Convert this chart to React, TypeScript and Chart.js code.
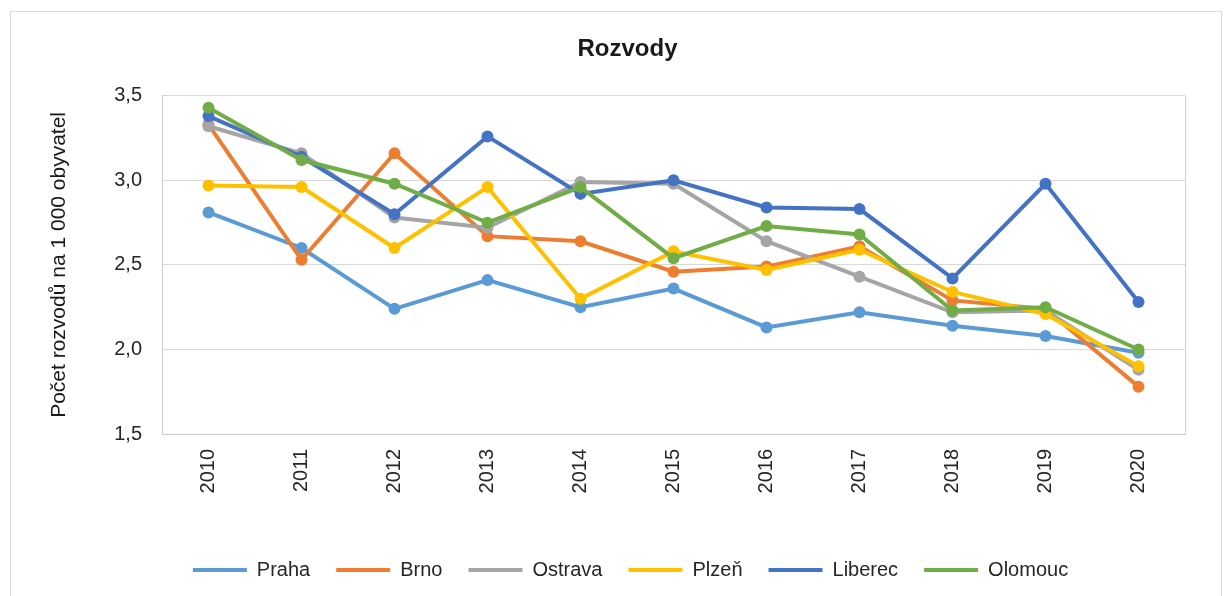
import React, { useEffect, useRef } from "react";
import { Chart, registerables } from "chart.js";

Chart.register(...registerables);

const years = ["2010", "2011", "2012", "2013", "2014", "2015", "2016", "2017", "2018", "2019", "2020"];
const praha = [2.81, 2.6, 2.24, 2.41, 2.25, 2.36, 2.13, 2.22, 2.14, 2.08, 1.98];
const brno = [3.33, 2.53, 3.16, 2.67, 2.64, 2.46, 2.49, 2.61, 2.29, 2.24, 1.78];
const ostrava = [3.32, 3.16, 2.78, 2.72, 2.99, 2.98, 2.64, 2.43, 2.22, 2.23, 1.88];
const plzen = [2.97, 2.96, 2.6, 2.96, 2.3, 2.58, 2.47, 2.59, 2.34, 2.21, 1.9];
const liberec = [3.38, 3.14, 2.8, 3.26, 2.92, 3.0, 2.84, 2.83, 2.42, 2.98, 2.28];
const olomouc = [3.43, 3.12, 2.98, 2.75, 2.96, 2.54, 2.73, 2.68, 2.23, 2.25, 2.0];

const seriesNames = ["Praha", "Brno", "Ostrava", "Plzeň", "Liberec", "Olomouc"];
const seriesValues = [praha, brno, ostrava, plzen, liberec, olomouc];
const seriesColors = ["#5B9BD5", "#ED7D31", "#A5A5A5", "#FFC000", "#4472C4", "#70AD47"];

const FONT = "'Liberation Sans', Arial, sans-serif";

const framePlugin = {
  id: "plotFrame",
  afterLayout(chart: any) {
    if (chart.legend) {
      chart.legend.left += 18;
      chart.legend.right += 18;
    }
    if (chart.titleBlock) {
      chart.titleBlock.left += 15;
      chart.titleBlock.right += 15;
    }
  },
  beforeDatasetsDraw(chart: any) {
    const { ctx, chartArea } = chart;
    ctx.save();
    ctx.strokeStyle = "#d0d0d0";
    ctx.lineWidth = 1;
    ctx.beginPath();
    ctx.moveTo(Math.round(chartArea.right) + 0.5, chartArea.top);
    ctx.lineTo(Math.round(chartArea.right) + 0.5, chartArea.bottom);
    ctx.stroke();
    ctx.restore();
  },
};

export default function App() {
  const ref = useRef<HTMLCanvasElement | null>(null);

  useEffect(() => {
    if (!ref.current) return;
    const datasets = seriesNames.map((name, i) => ({
      label: name,
      data: seriesValues[i],
      borderColor: seriesColors[i],
      backgroundColor: seriesColors[i],
      pointBackgroundColor: seriesColors[i],
      pointBorderColor: seriesColors[i],
      borderWidth: 4,
      pointRadius: 6,
      pointBorderWidth: 0,
      tension: 0,
      order: seriesNames.length - i,
    }));

    const chart = new Chart(ref.current, {
      type: "line",
      data: { labels: years, datasets },
      options: {
        animation: false,
        responsive: false,
        maintainAspectRatio: false,
        layout: { padding: { left: 40, right: 43, top: 0, bottom: 6 } },
        plugins: {
          title: {
            display: true,
            text: "Rozvody",
            color: "#1a1a1a",
            font: { family: FONT, size: 24, weight: "bold" },
            padding: { top: 35, bottom: 32 },
          },
          legend: {
            position: "bottom",
            labels: {
              color: "#262626",
              font: { family: FONT, size: 20 },
              boxWidth: 54,
              boxHeight: 4,
              padding: 26,
              sort: (a: any, b: any) => a.datasetIndex - b.datasetIndex,
              generateLabels: (c: any) => {
                const items = Chart.defaults.plugins.legend.labels.generateLabels(c);
                return items.map((it: any) => ({ ...it, lineWidth: 0, fillStyle: seriesColors[it.datasetIndex] }));
              },
            },
          },
          tooltip: { enabled: false },
        },
        scales: {
          x: {
            offset: true,
            grid: { display: false, drawTicks: false, offset: true },
            border: { display: true, color: "#c8c8c8" },
            ticks: {
              color: "#262626",
              font: { family: FONT, size: 20 },
              minRotation: 90,
              maxRotation: 90,
              padding: 15,
            },
            afterFit: (scale: any) => {
              scale.height = 100;
            },
          },
          y: {
            min: 1.5,
            max: 3.5,
            grid: { color: "#d9d9d9", drawTicks: false },
            border: { display: true, color: "#c8c8c8" },
            ticks: {
              stepSize: 0.5,
              color: "#262626",
              font: { family: FONT, size: 20 },
              padding: 20,
              callback: (v: any) => Number(v).toFixed(1).replace(".", ","),
            },
            title: {
              display: true,
              text: "Počet rozvodů na 1 000 obyvatel",
              color: "#1a1a1a",
              font: { family: FONT, size: 21 },
              padding: { top: 7, bottom: 0 },
            },
            afterFit: (scale: any) => {
              scale.width = 122;
            },
          },
        },
      },
      plugins: [framePlugin],
    } as any);
    return () => chart.destroy();
  }, []);

  return (
    <div style={{ position: "absolute", left: 0, top: 0, width: 1228, height: 596, background: "#fff", overflow: "hidden" }}>
      <div
        style={{
          position: "absolute",
          left: 10,
          top: 11,
          width: 1212,
          height: 620,
          border: "1px solid #d9d9d9",
          boxSizing: "border-box",
        }}
      />
      <canvas ref={ref} width={1228} height={596} style={{ position: "absolute", left: 0, top: 0, width: 1228, height: 596 }} />
    </div>
  );
}
